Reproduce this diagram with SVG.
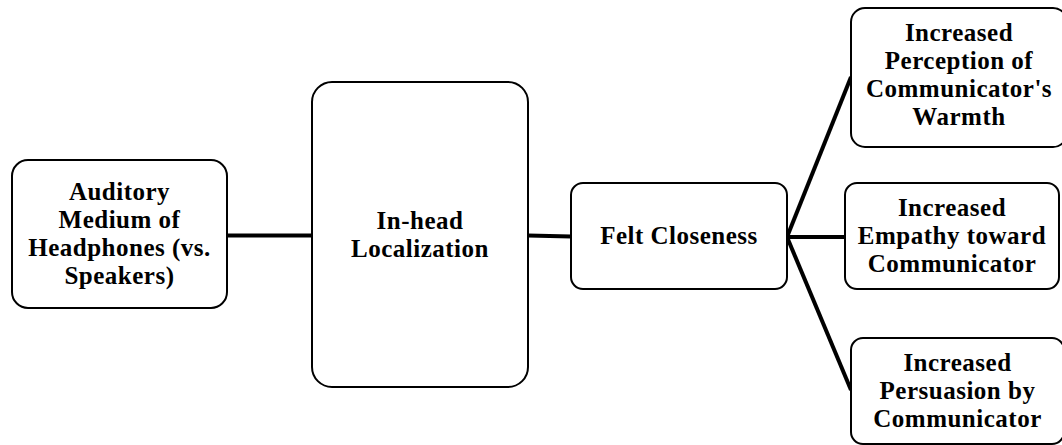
<svg xmlns="http://www.w3.org/2000/svg" width="1062" height="445" viewBox="0 0 1062 445">
  <style>
    .box { fill: #ffffff; stroke: #000000; stroke-width: 2; }
    .lbl { font-family: "Liberation Serif", "Times New Roman", serif; font-weight: bold; font-size: 25px; letter-spacing: 0.5px; fill: #000000; text-anchor: middle; }
    .link { stroke: #000000; stroke-width: 4; fill: none; }
  </style>
  <rect width="1062" height="445" fill="#ffffff"/>

  <!-- connectors -->
  <g id="connectors">
    <line class="link" x1="227" y1="235.5" x2="312" y2="235.5"/>
    <line class="link" x1="528" y1="235.5" x2="571" y2="236.5"/>
    <line class="link" x1="787" y1="237" x2="845" y2="237"/>
    <line class="link" x1="787" y1="237" x2="851" y2="77" stroke-width="3.5"/>
    <line class="link" x1="787" y1="237" x2="851" y2="390" stroke-width="3.5"/>
  </g>

  <!-- nodes -->
  <g id="node-medium">
    <rect class="box" x="12" y="160" width="215" height="148" rx="16"/>
    <text class="lbl" x="119.5" y="200">Auditory</text>
    <text class="lbl" x="119.5" y="228">Medium of</text>
    <text class="lbl" x="119.5" y="256">Headphones (vs.</text>
    <text class="lbl" x="119.5" y="284">Speakers)</text>
  </g>

  <g id="node-localization">
    <rect class="box" x="312" y="82" width="216" height="305" rx="20"/>
    <text class="lbl" x="420" y="228.5">In-head</text>
    <text class="lbl" x="420" y="256.5">Localization</text>
  </g>

  <g id="node-closeness">
    <rect class="box" x="571" y="183" width="216" height="106" rx="12"/>
    <text class="lbl" x="679" y="244">Felt Closeness</text>
  </g>

  <g id="node-warmth">
    <rect class="box" x="851" y="8" width="216" height="139" rx="14"/>
    <text class="lbl" x="959" y="41">Increased</text>
    <text class="lbl" x="959" y="69">Perception of</text>
    <text class="lbl" x="959" y="97">Communicator's</text>
    <text class="lbl" x="959" y="125">Warmth</text>
  </g>

  <g id="node-empathy">
    <rect class="box" x="845" y="183" width="214" height="106" rx="12"/>
    <text class="lbl" x="952" y="215.5">Increased</text>
    <text class="lbl" x="952" y="243.5">Empathy toward</text>
    <text class="lbl" x="952" y="271.5">Communicator</text>
  </g>

  <g id="node-persuasion">
    <rect class="box" x="851" y="338" width="213" height="106" rx="12"/>
    <text class="lbl" x="957.5" y="371">Increased</text>
    <text class="lbl" x="957.5" y="399">Persuasion by</text>
    <text class="lbl" x="957.5" y="427">Communicator</text>
  </g>
</svg>
